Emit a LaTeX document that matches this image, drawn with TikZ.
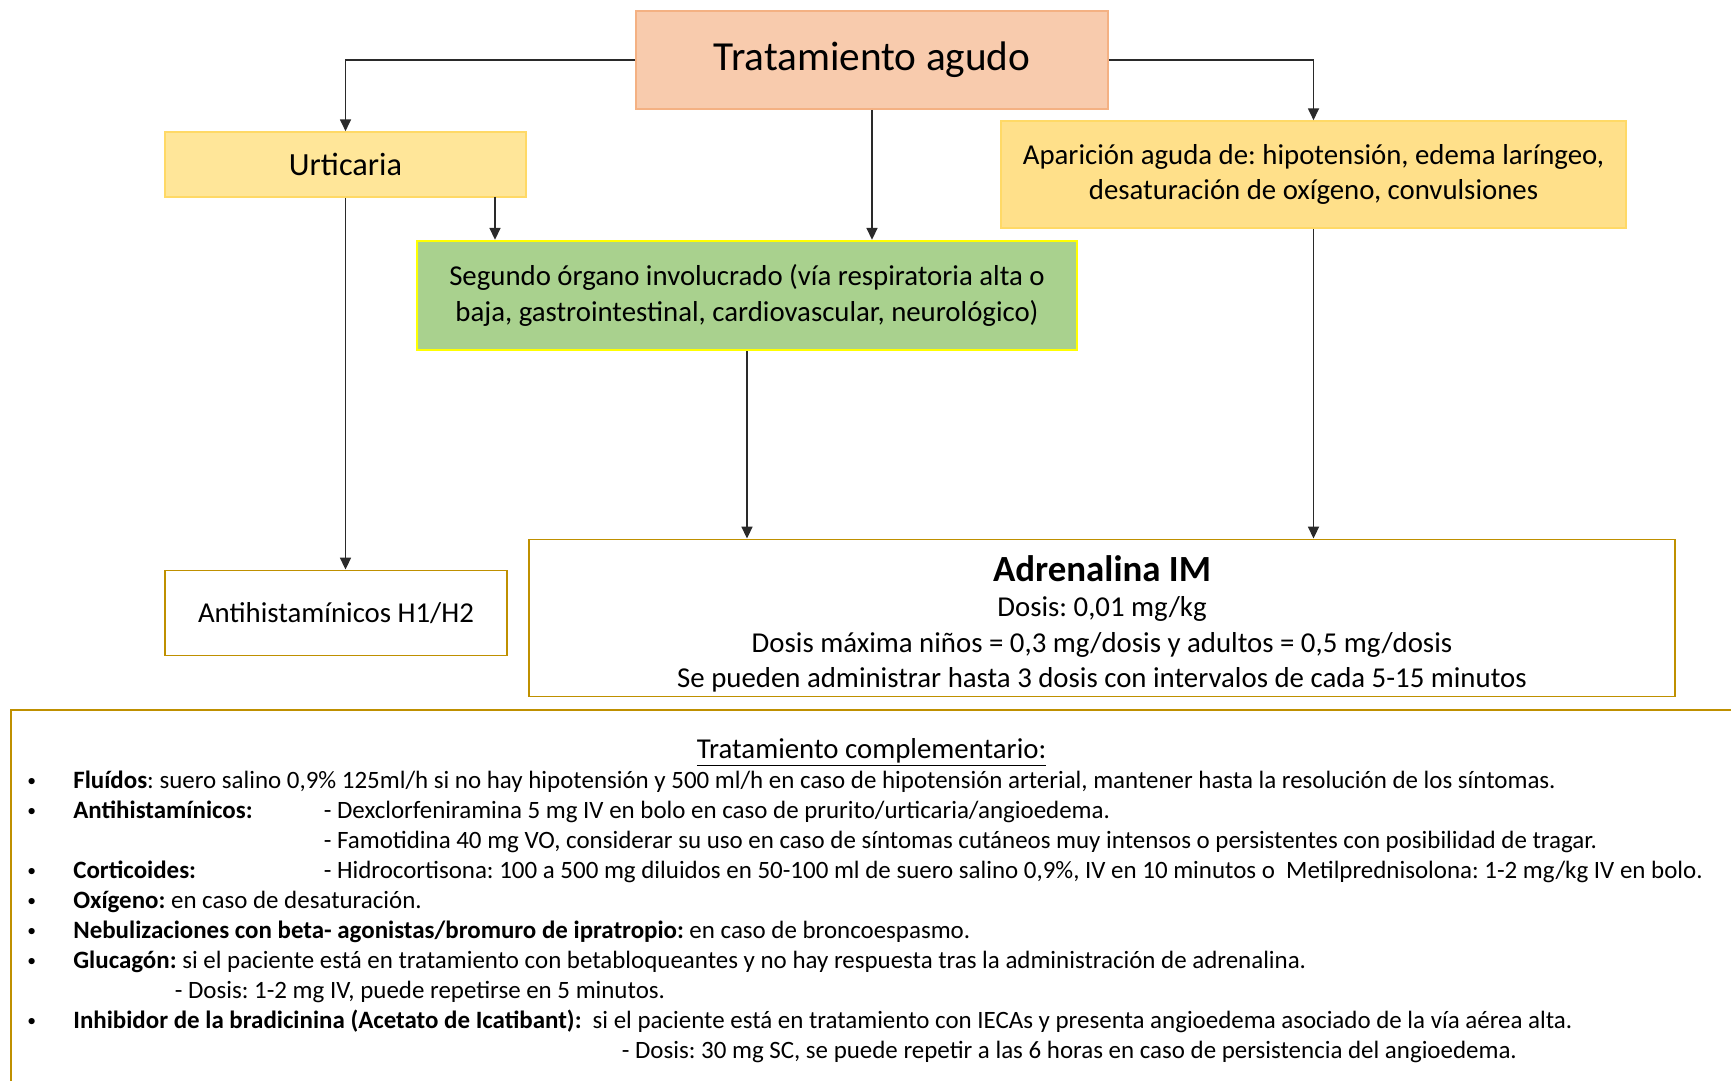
\documentclass[tikz,border=0pt]{standalone}
\usepackage{fontspec}
\setmainfont{Carlito}
\usepackage{tikz}
\usetikzlibrary{arrows.meta}
\usetikzlibrary{calc}
\frenchspacing

\definecolor{agudofill}{HTML}{F8CBAD}
\definecolor{agudoline}{HTML}{F4B183}
\definecolor{urtfill}{HTML}{FFE699}
\definecolor{urtline}{HTML}{FFD966}
\definecolor{aparfill}{HTML}{FFE08A}
\definecolor{segfill}{HTML}{A9D18E}
\definecolor{segline}{HTML}{FFFF00}
\definecolor{oro}{HTML}{BF9000}
\definecolor{flecha}{HTML}{2A2A2A}

\newcommand{\pxu}{0.02cm}

\begin{document}
\begin{tikzpicture}[x=0.02cm, y=-0.02cm,
    main/.style = {draw, rectangle, inner sep=0pt, align=center, line width=0.9pt,
                   font=\fontsize{16.4}{20.2}\selectfont},
    arr/.style = {-{Triangle[length=6.8pt,width=6.3pt]}, flecha, line width=0.85pt},
    txt/.style = {anchor=base west, inner sep=0pt, font=\fontsize{14.2}{17}\selectfont}]
    \useasboundingbox (0,0) rectangle (1731,1081);
    \clip (0,0) rectangle (1731,1081);

    \node [main, fill=agudofill, draw=agudoline, minimum width=472*\pxu, minimum height=98*\pxu,
           font=\fontsize{23.5}{28}\selectfont] (agudo) at (872, 60) {Tratamiento agudo};
    \node [main, fill=urtfill, draw=urtline, minimum width=361*\pxu, minimum height=65*\pxu,
           font=\fontsize{18.4}{22}\selectfont] (urt) at (345.5, 164.5) {Urticaria};
    \node [main, fill=aparfill, draw=urtline, minimum width=625*\pxu, minimum height=107*\pxu]
           (apar) at (1313.5, 174.5) {Aparición aguda de: hipotensión, edema laríngeo,\\ desaturación de oxígeno, convulsiones};
    \node [main, fill=segfill, draw=segline, line width=1.4pt, minimum width=660*\pxu, minimum height=109*\pxu]
           (seg) at (747, 295.5) {Segundo órgano involucrado (vía respiratoria alta o\\ baja, gastrointestinal, cardiovascular, neurológico)};
    \node [main, draw=oro, line width=1.1pt, minimum width=342*\pxu, minimum height=85*\pxu]
           (ah) at (336, 613) {Antihistamínicos H1/H2};
    \node [main, draw=oro, line width=1.1pt, minimum width=1146*\pxu, minimum height=157*\pxu]
           (adr) at (1102, 618) {};
    \node [align=center, inner sep=0pt, font=\fontsize{16.4}{20.2}\selectfont] (adrtxt) at (1102, 624)
           {{\fontsize{21}{25}\selectfont\bfseries Adrenalina IM}\\
           Dosis: 0,01 mg/kg\\
           Dosis máxima niños = 0,3 mg/dosis y adultos = 0,5 mg/dosis\\
           Se pueden administrar hasta 3 dosis con intervalos de cada 5-15 minutos};

    \coordinate (u2) at (495, 197);

    \draw [arr] (agudo.west) -| (urt.north);
    \draw [arr] (agudo.east) -| (apar.north);
    \draw [arr] (agudo.south) -- (agudo.south |- seg.north);
    \draw [arr] (u2) -- (u2 |- seg.north);
    \draw [arr] (urt.south) -- (urt.south |- ah.north);
    \draw [arr] (seg.south) -- (seg.south |- adr.north);
    \draw [arr] (apar.south) -- (apar.south |- adr.north);

    % tratamiento complementario
    \draw [oro, line width=1.1pt] (11, 710) rectangle (1800, 1200);
    \node [txt, anchor=base, font=\fontsize{16.4}{19.8}\selectfont] (tit) at (871.6, 758) {\underline{Tratamiento complementario:}};

    \foreach \y [count=\i] in {788,818,878,908,938,968,1028}
        \node [txt, font=\fontsize{10}{12}\selectfont] (b\i) at (27, \y-2) {•};

    \node [txt] (l1) at (73, 788) {\textbf{Fluídos}: suero salino 0,9\% 125ml/h si no hay hipotensión y 500 ml/h en caso de hipotensión arterial, mantener hasta la resolución de los síntomas.};
    \node [txt] (l2) at (73, 818) {\textbf{Antihistamínicos:}};
    \node [txt] (l2b) at (323.5, 818) {- Dexclorfeniramina 5 mg IV en bolo en caso de prurito/urticaria/angioedema.};
    \node [txt] (l3) at (323.5, 848) {- Famotidina 40 mg VO, considerar su uso en caso de síntomas cutáneos muy intensos o persistentes con posibilidad de tragar.};
    \node [txt] (l4) at (73, 878) {\textbf{Corticoides:}};
    \node [txt] (l4b) at (323.5, 878) {- Hidrocortisona: 100 a 500 mg diluidos en 50-100 ml de suero salino 0,9\%, IV en 10 minutos o \ Metilprednisolona: 1-2 mg/kg IV en bolo.};
    \node [txt] (l5) at (73, 908) {\textbf{Oxígeno:} en caso de desaturación.};
    \node [txt] (l6) at (73, 938) {\textbf{Nebulizaciones con beta- agonistas/bromuro de ipratropio:} en caso de broncoespasmo.};
    \node [txt] (l7) at (73, 968) {\textbf{Glucagón:} si el paciente está en tratamiento con betabloqueantes y no hay respuesta tras la administración de adrenalina.};
    \node [txt] (l8) at (174.5, 998) {- Dosis: 1-2 mg IV, puede repetirse en 5 minutos.};
    \node [txt] (l9) at (73, 1028) {\textbf{Inhibidor de la bradicinina (Acetato de Icatibant):} \ si el paciente está en tratamiento con IECAs y presenta angioedema asociado de la vía aérea alta.};
    \node [txt] (l10) at (621.5, 1058) {- Dosis: 30 mg SC, se puede repetir a las 6 horas en caso de persistencia del angioedema.};
\end{tikzpicture}
\end{document}
